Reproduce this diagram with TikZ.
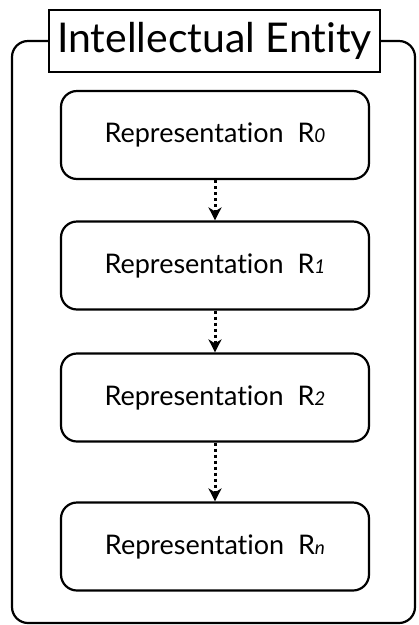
\documentclass[tikz,border=0pt]{standalone}
\usepackage{fontspec}
\setmainfont{Lato}[Ligatures=NoCommon]
\usetikzlibrary{arrows.meta}
\begin{document}
\begin{tikzpicture}[x=1pt,y=-1pt,
  repbox/.style={draw, line width=2.2pt, rounded corners=16pt, minimum width=308pt, minimum height=88pt, inner sep=0pt, font=\fontsize{27}{32}\selectfont},
  titlebox/.style={draw, line width=1.3pt, fill=white, minimum width=331pt, minimum height=62pt, inner sep=0pt, font=\fontsize{41}{48}\selectfont},
  frame/.style={line width=2.2pt, rounded corners=16pt},
  flow/.style={line width=3pt, dash pattern=on 3pt off 3pt, -{Stealth[length=13pt,width=13pt,inset=4pt]}}
]
\useasboundingbox (0,0) rectangle (419,625);
\newcommand{\rsub}[1]{R{\fontsize{19}{22}\selectfont\itshape #1}}
\coordinate (fl) at (12,623);
\coordinate (fr) at (415,623);
\node[titlebox] (title) at (214.5,41) {Intellectual Entity};
\draw[frame] (title.west) -- (title.west -| fl) -- (fl) -- (fr) -- (title.east -| fr) -- (title.east);
\node[repbox] (r0) at (215,135) {Representation\ \ \rsub{0}};
\node[repbox] (r1) at (215,265.5) {Representation\ \ \rsub{1}};
\node[repbox] (r2) at (215,397.5) {Representation\ \ \rsub{2}};
\node[repbox] (rn) at (215,546.5) {Representation\ \ \rsub{n}};
\draw[flow] (r0) -- (r1);
\draw[flow] (r1) -- (r2);
\draw[flow] (r2) -- (rn);
\end{tikzpicture}
\end{document}
